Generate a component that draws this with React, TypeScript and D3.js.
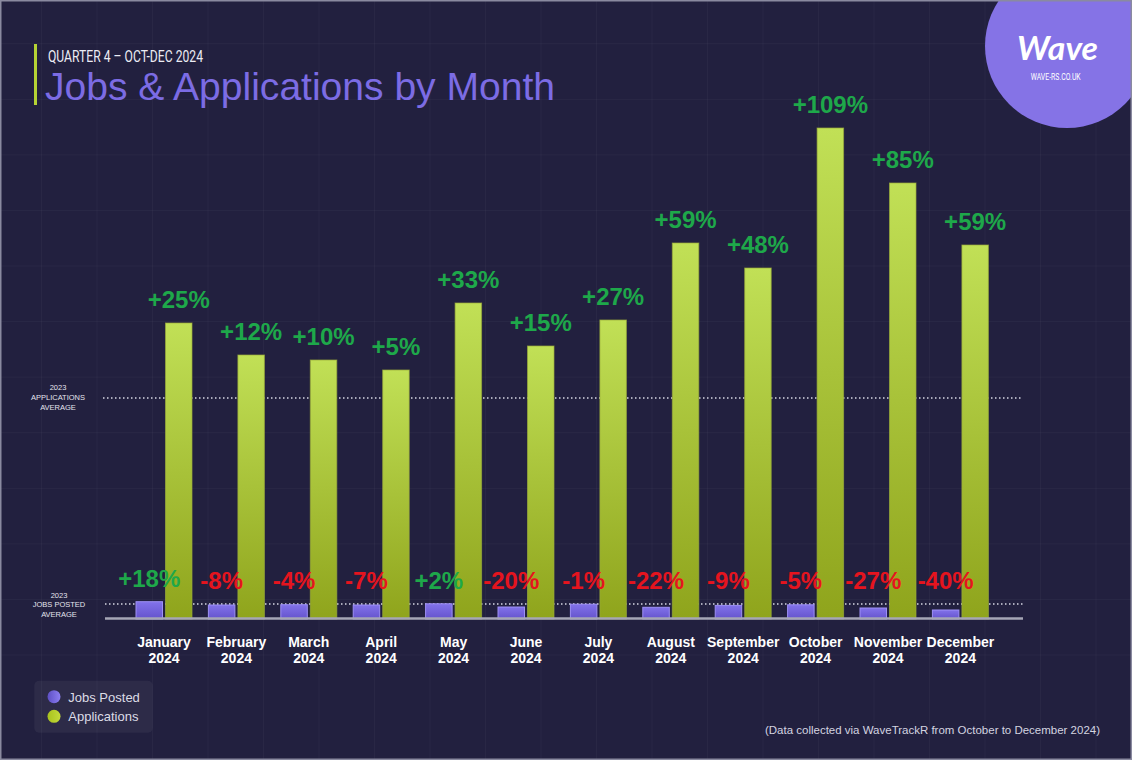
import React from "react";
import * as d3 from "d3";

// Months along the x axis
const months = [
  "January", "February", "March", "April", "May", "June",
  "July", "August", "September", "October", "November", "December",
];
const year = "2024";

// Jobs posted per month and change vs 2023 average
const jobsPosted = [1730, 1400, 1430, 1400, 1520, 1200, 1480, 1170, 1360, 1420, 1100, 900];
const jobsChange = [18, -8, -4, -7, 2, -20, -1, -22, -9, -5, -27, -40];

// Applications per month and change vs 2023 average
const applications = [29600, 26400, 25900, 24900, 31600, 27300, 29900, 37600, 35100, 49100, 43600, 37400];
const applicationsChange = [25, 12, 10, 5, 33, 15, 27, 59, 48, 109, 85, 59];

// 2023 reference averages
const jobsAverage2023 = 1500;
const applicationsAverage2023 = 22100;

const legendItems = [
  { label: "Jobs Posted", key: "jobs" },
  { label: "Applications", key: "apps" },
];

const W = 1132;
const H = 760;
const BG = "#22203f";
const GREEN_TXT = "#1ea84a";
const RED_TXT = "#e5141e";

const fmtPct = (v: number) => (v > 0 ? `+${v}%` : `${v}%`);

export default function App() {
  const x = d3.scaleBand<string>().domain(months).range([127.8, 996.6]).paddingInner(0).paddingOuter(0);
  const sub = d3.scaleBand<string>().domain(["jobs", "apps"]).range([-28, 28]).paddingInner(6 / 59);
  const y = d3.scaleLinear().domain([0, 50000]).range([619, 119]);

  const center = (m: string) => (x(m) ?? 0) + x.bandwidth() / 2;

  const axisX0 = 105;
  const axisX1 = 1023;

  const gridXs = d3.range(41.5, W, 55.5);
  const gridYs = d3.range(655, 0, -55.57);

  return (
    <svg
      width={W}
      height={H}
      viewBox={`0 0 ${W} ${H}`}
      style={{ position: "fixed", left: 0, top: 0, display: "block" }}
      fontFamily="'Liberation Sans', Arial, sans-serif"
    >
      <defs>
        <linearGradient id="appsGrad" x1="0" y1="0" x2="0" y2="1">
          <stop offset="0%" stopColor="#c1e056" />
          <stop offset="100%" stopColor="#8fa41c" />
        </linearGradient>
        <linearGradient id="jobsGrad" x1="0" y1="0" x2="0" y2="1">
          <stop offset="0%" stopColor="#8272ea" />
          <stop offset="100%" stopColor="#6453cc" />
        </linearGradient>
        <linearGradient id="jobsDot" x1="0" y1="0" x2="1" y2="0">
          <stop offset="0%" stopColor="#5d4fc4" />
          <stop offset="100%" stopColor="#8d7ff2" />
        </linearGradient>
        <linearGradient id="appsDot" x1="0" y1="0" x2="1" y2="0">
          <stop offset="0%" stopColor="#a9c21e" />
          <stop offset="100%" stopColor="#c3da3a" />
        </linearGradient>
        <clipPath id="frame">
          <rect x={0} y={0} width={W} height={H} />
        </clipPath>
      </defs>

      <rect x={0} y={0} width={W} height={H} fill={BG} />

      {/* faint background grid */}
      <g stroke="#ffffff" strokeOpacity={0.035} strokeWidth={1}>
        {gridXs.map((gx) => (
          <line key={`gx${gx}`} x1={gx} x2={gx} y1={0} y2={H} />
        ))}
        {gridYs.map((gy) => (
          <line key={`gy${gy}`} x1={0} x2={W} y1={gy} y2={gy} />
        ))}
      </g>

      {/* logo badge */}
      <g clipPath="url(#frame)">
        <circle cx={1067} cy={46} r={82} fill="#8573e6" />
        <text
          x={1057.5}
          y={60}
          textAnchor="middle"
          fill="#ffffff"
          fontSize={32}
          fontWeight={700}
          fontStyle="italic"
          fontFamily="Lato, 'Liberation Sans', sans-serif"
          textLength={81}
          lengthAdjust="spacingAndGlyphs"
        >
          Wave
        </text>
        <text
          x={1055.7}
          y={80}
          textAnchor="middle"
          fill="#ffffff"
          fontSize={9}
          fontFamily="Roboto, sans-serif"
          textLength={50}
          lengthAdjust="spacingAndGlyphs"
        >
          WAVE-RS.CO.UK
        </text>
      </g>

      {/* title block */}
      <rect x={34} y={44} width={3} height={61} fill="#b5d334" />
      <text
        x={48}
        y={62}
        fill="#ececf4"
        fontSize={17}
        fontWeight={400}
        fontFamily="Roboto, sans-serif"
        textLength={155}
        lengthAdjust="spacingAndGlyphs"
      >
        QUARTER 4 – OCT-DEC 2024
      </text>
      <text x={45} y={100} fill="#7c6ce4" fontSize={39} textLength={510} lengthAdjust="spacingAndGlyphs">
        Jobs &amp; Applications by Month
      </text>

      {/* 2023 average reference lines */}
      <g stroke="#d6d6e4" strokeWidth={1.5} strokeDasharray="1.5 2.5">
        <line x1={103} x2={axisX1} y1={y(applicationsAverage2023)} y2={y(applicationsAverage2023)} />
        <line x1={axisX0} x2={axisX1} y1={y(jobsAverage2023)} y2={y(jobsAverage2023)} />
      </g>
      <g fill="#e4e4ee" fontSize={7.5} textAnchor="middle">
        {["2023", "APPLICATIONS", "AVERAGE"].map((t, i) => (
          <text key={t} x={58} y={y(applicationsAverage2023) - 8 + i * 10}>
            {t}
          </text>
        ))}
        {["2023", "JOBS POSTED", "AVERAGE"].map((t, i) => (
          <text key={t} x={59} y={y(jobsAverage2023) - 6.5 + i * 9.5}>
            {t}
          </text>
        ))}
      </g>

      {/* bars */}
      {months.map((m, i) => {
        const c = center(m);
        const jx = c + (sub("jobs") ?? 0);
        const ax = c + (sub("apps") ?? 0);
        const bw = sub.bandwidth();
        const jTop = y(jobsPosted[i]);
        const aTop = y(applications[i]);
        return (
          <g key={m}>
            <rect
              x={jx}
              y={jTop}
              width={bw}
              height={y(0) - jTop}
              fill="url(#jobsGrad)"
              stroke="#9d8ff6"
              strokeWidth={1}
            />
            <rect
              x={ax}
              y={aTop}
              width={bw}
              height={y(0) - aTop}
              fill="url(#appsGrad)"
              stroke="#9aab3a"
              strokeOpacity={0.7}
              strokeWidth={1}
            />
          </g>
        );
      })}

      {/* baseline */}
      <line x1={axisX0} x2={axisX1} y1={618.5} y2={618.5} stroke="#a6a6b6" strokeWidth={2.5} />

      {/* change labels */}
      <g fontSize={24} fontWeight={700} textAnchor="middle">
        {months.map((m, i) => {
          const c = center(m);
          const bw = sub.bandwidth();
          const jc = c + (sub("jobs") ?? 0) + bw / 2;
          const ac = c + (sub("apps") ?? 0) + bw / 2;
          const jy = Math.min(y(jobsPosted[i]), y(jobsAverage2023)) - 15;
          return (
            <g key={m}>
              <text x={ac} y={y(applications[i]) - 15} fill={applicationsChange[i] >= 0 ? GREEN_TXT : RED_TXT}>
                {fmtPct(applicationsChange[i])}
              </text>
              <text x={jc} y={jy} fill={jobsChange[i] >= 0 ? GREEN_TXT : RED_TXT}>
                {fmtPct(jobsChange[i])}
              </text>
            </g>
          );
        })}
      </g>

      {/* month labels */}
      <g fill="#ffffff" fontSize={14} fontWeight={700} textAnchor="middle">
        {months.map((m) => (
          <text key={m} x={center(m)} y={647}>
            <tspan x={center(m)}>{m}</tspan>
            <tspan x={center(m)} dy={16}>
              {year}
            </tspan>
          </text>
        ))}
      </g>

      {/* legend */}
      <rect x={34.3} y={680.7} width={118.4} height={52} rx={5} fill="#ffffff" fillOpacity={0.05} />
      {legendItems.map((it, i) => (
        <g key={it.key}>
          <circle cx={54} cy={696.7 + i * 19.6} r={6.5} fill={it.key === "jobs" ? "url(#jobsDot)" : "url(#appsDot)"} />
          <text x={68.3} y={701.5 + i * 19.6} fill="#dcdce6" fontSize={13}>
            {it.label}
          </text>
        </g>
      ))}

      {/* source note */}
      <text x={765} y={733.5} fill="#d4d4e0" fontSize={11} textLength={335} lengthAdjust="spacingAndGlyphs">
        (Data collected via WaveTrackR from October to December 2024)
      </text>

      {/* outer frame */}
      <rect x={0.75} y={0.75} width={W - 1.5} height={H - 1.5} fill="none" stroke="#8a8aa0" strokeWidth={1.5} />
    </svg>
  );
}
